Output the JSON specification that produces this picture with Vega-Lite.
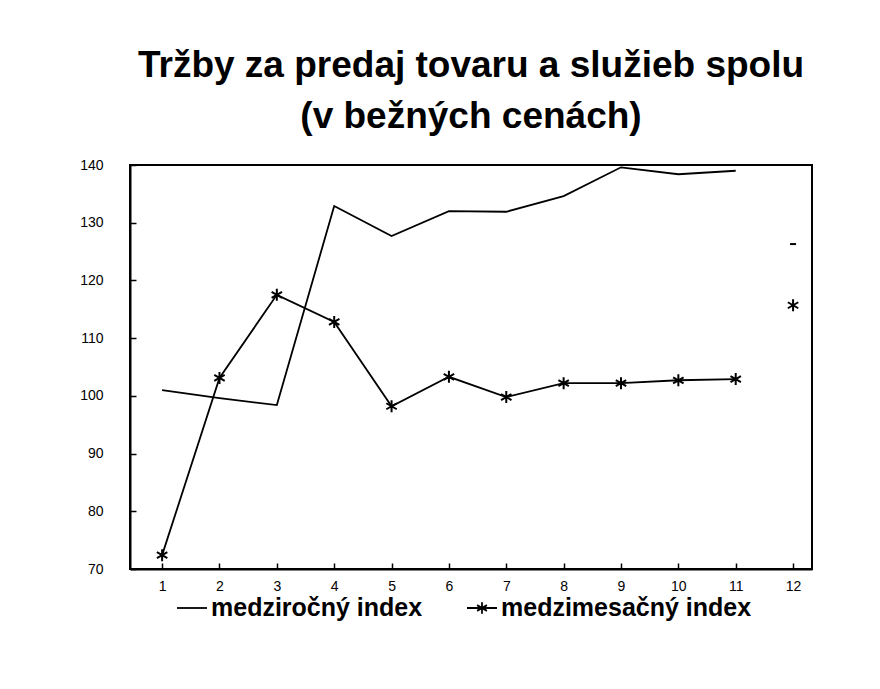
{
  "$schema": "https://vega.github.io/schema/vega-lite/v6.json",
  "width": 682,
  "height": 404,
  "autosize": {"type": "none"},
  "padding": {"left": 130, "top": 165, "right": 68, "bottom": 120},
  "background": "white",
  "title": {
    "text": ["Tržby za predaj tovaru a služieb spolu", "(v bežných cenách)"],
    "font": "Liberation Sans",
    "fontSize": 37,
    "fontWeight": "bold",
    "lineHeight": 51,
    "color": "black",
    "anchor": "middle",
    "offset": 22
  },
  "config": {
    "view": {"stroke": "black", "strokeWidth": 2},
    "axis": {
      "domainColor": "black",
      "domainWidth": 2,
      "tickColor": "black",
      "tickWidth": 1.5,
      "labelFont": "Liberation Sans",
      "labelFontSize": 14,
      "labelColor": "black",
      "grid": false,
      "title": null
    }
  },
  "data": {
    "values": [
      {"m": 1, "series": "medziročný index", "v": 101.0},
      {"m": 2, "series": "medziročný index", "v": 99.6},
      {"m": 3, "series": "medziročný index", "v": 98.4},
      {"m": 4, "series": "medziročný index", "v": 132.9},
      {"m": 5, "series": "medziročný index", "v": 127.7},
      {"m": 6, "series": "medziročný index", "v": 132.0},
      {"m": 7, "series": "medziročný index", "v": 131.9},
      {"m": 8, "series": "medziročný index", "v": 134.6},
      {"m": 9, "series": "medziročný index", "v": 139.6},
      {"m": 10, "series": "medziročný index", "v": 138.4},
      {"m": 11, "series": "medziročný index", "v": 139.0},
      {"m": 12, "series": "medziročný index", "v": 126.3},
      {"m": 1, "series": "medzimesačný index", "v": 72.4},
      {"m": 2, "series": "medzimesačný index", "v": 103.1},
      {"m": 3, "series": "medzimesačný index", "v": 117.5},
      {"m": 4, "series": "medzimesačný index", "v": 112.8},
      {"m": 5, "series": "medzimesačný index", "v": 98.2},
      {"m": 6, "series": "medzimesačný index", "v": 103.3},
      {"m": 7, "series": "medzimesačný index", "v": 99.8},
      {"m": 8, "series": "medzimesačný index", "v": 102.2},
      {"m": 9, "series": "medzimesačný index", "v": 102.2},
      {"m": 10, "series": "medzimesačný index", "v": 102.7},
      {"m": 11, "series": "medzimesačný index", "v": 102.9},
      {"m": 12, "series": "medzimesačný index", "v": 115.7}
    ]
  },
  "encoding": {
    "x": {
      "field": "m",
      "type": "quantitative",
      "scale": {"domain": [0.44, 12.33], "nice": false, "zero": false},
      "axis": {"values": [1,2,3,4,5,6,7,8,9,10,11,12], "tickSize": -6, "labelPadding": 16, "format": "d"}
    },
    "y": {
      "field": "v",
      "type": "quantitative",
      "scale": {"domain": [70, 140], "nice": false, "zero": false},
      "axis": {"values": [70,80,90,100,110,120,130,140], "tickSize": -6, "labelPadding": 33}
    }
  },
  "layer": [
    {
      "transform": [{"filter": "datum.m <= 11"}],
      "mark": {"type": "line", "strokeWidth": 1.8},
      "encoding": {
        "color": {
          "field": "series",
          "type": "nominal",
          "scale": {"domain": ["medziročný index", "medzimesačný index"], "range": ["black", "black"]},
          "legend": {
            "orient": "none",
            "legendX": 46,
            "legendY": 427,
            "direction": "horizontal",
            "title": null,
            "labelFont": "Liberation Sans",
            "labelFontSize": 25,
            "labelFontWeight": "bold",
            "labelColor": "black",
            "labelLimit": 500,
            "labelOffset": 3,
            "columnPadding": 40,
            "symbolSize": 900,
            "symbolStrokeWidth": 1.8,
            "symbolStrokeColor": "black",
            "encode": {
              "symbols": {
                "update": {
                  "shape": {"signal": "datum.value === 'medzimesačný index' ? 'M-1,0H1M0,-0.38V0.38M-0.33,-0.19L0.33,0.19M-0.33,0.19L0.33,-0.19' : 'M-1,0H1'"},
                  "stroke": {"value": "black"},
                  "strokeWidth": {"value": 1.8}
                }
              }
            }
          }
        }
      }
    },
    {
      "transform": [{"filter": "datum.series === 'medzimesačný index'"}],
      "mark": {
        "type": "point",
        "shape": "M0,-1V1M-0.87,-0.5L0.87,0.5M-0.87,0.5L0.87,-0.5",
        "size": 144,
        "filled": false,
        "stroke": "black",
        "strokeWidth": 2,
        "opacity": 1
      }
    },
    {
      "transform": [{"filter": "datum.series === 'medziročný index' && datum.m === 12"}],
      "mark": {
        "type": "point",
        "shape": "M-1,0H1",
        "size": 36,
        "filled": false,
        "stroke": "black",
        "strokeWidth": 2,
        "opacity": 1
      }
    }
  ]
}
